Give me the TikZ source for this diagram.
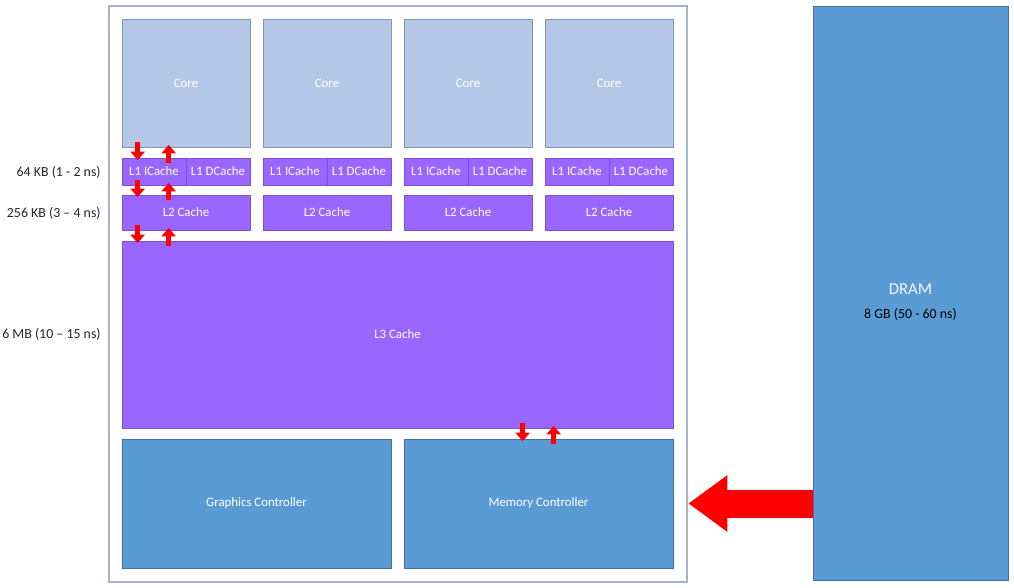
\documentclass[tikz,border=0pt]{standalone}
\usepackage{fontspec}
\setmainfont{Carlito}
\usepackage{tikz}
\usetikzlibrary{calc}
\usetikzlibrary{positioning}
\usetikzlibrary{arrows.meta}
\definecolor{coreblue}{RGB}{180,199,231}
\definecolor{coreline}{RGB}{132,151,176}
\definecolor{cachefill}{RGB}{153,102,255}
\definecolor{cacheline}{RGB}{125,78,215}
\definecolor{ctrlfill}{RGB}{91,155,213}
\definecolor{ctrlline}{RGB}{65,113,156}
\definecolor{chipline}{RGB}{165,180,200}
\tikzset{
  corebox/.style={draw=coreline, fill=coreblue, minimum width=2.56cm, minimum height=2.56cm,
    inner sep=0pt, text=white, font=\fontsize{7.3}{8}\selectfont},
  cachebox/.style={draw=cacheline, fill=cachefill, inner sep=0pt, text=white,
    font=\fontsize{7.3}{8}\selectfont},
  ctrlbox/.style={draw=ctrlline, fill=ctrlfill, inner sep=0pt, text=white,
    font=\fontsize{7.3}{8}\selectfont},
  sizelbl/.style={anchor=east, inner sep=0pt, text=black!85, font=\fontsize{7.9}{9}\selectfont},
  busarrow/.style={red, line width=0.09cm, -{Triangle[width=0.28cm,length=0.17cm]},
    shorten <=-0.1cm, shorten >=-0.05cm}
}
% one pair of small read/write arrows between two boxes
\newcommand{\rwarrows}[4]{
  \coordinate (dn) at ($(#2.north west)+(#3,0)$);
  \coordinate (up) at ($(#2.north west)+(#4,0)$);
  \draw[busarrow] (dn |- #1.south) -- (dn);
  \draw[busarrow] (up) -- (up |- #1.south);
}
\begin{document}
\begin{tikzpicture}
  \useasboundingbox (0,0) rectangle (20.28,11.74);
  % chip outline
  \draw[chipline, line width=0.6pt, fill=white] (2.18,0.10) rectangle (13.74,11.62);
  % cores with their L1 and L2 caches
  \foreach \i/\x in {1/3.72,2/6.54,3/9.36,4/12.18} {
    \node[corebox] (core\i) at (\x,10.08) {Core};
    \node[cachebox, minimum width=1.28cm, minimum height=0.54cm] (l1i\i) at (\x-0.64,8.31) {L1 ICache};
    \node[cachebox, minimum width=1.28cm, minimum height=0.54cm] (l1d\i) at (\x+0.64,8.31) {L1 DCache};
    \node[cachebox, minimum width=2.56cm, minimum height=0.70cm] (l2\i) at (\x,7.49) {L2 Cache};
  }
  \node[cachebox, minimum width=11.02cm, minimum height=3.74cm] (l3) at (7.95,5.05) {L3 Cache};
  \node[ctrlbox, minimum width=5.38cm, minimum height=2.58cm] (gfx) at (5.13,1.67) {Graphics Controller};
  \node[ctrlbox, minimum width=5.38cm, minimum height=2.58cm] (memctl) at (10.77,1.67) {Memory Controller};
  % main memory
  \node[ctrlbox, minimum width=3.90cm, minimum height=11.48cm] (dram) at (18.21,5.88) {};
  \node[text=white!92!ctrlfill, font=\fontsize{9.5}{11}\selectfont] (dramname) at (18.21,5.96) {DRAM};
  \node[text=black, font=\fontsize{7.9}{9}\selectfont] (dramsize) at (18.21,5.46) {8 GB (50 - 60 ns)};
  % sizes and latencies
  \node[sizelbl] (l1size) at (2.02,8.30) {64 KB (1 - 2 ns)};
  \node[sizelbl] (l2size) at (2.02,7.48) {256 KB (3 -- 4 ns)};
  \node[sizelbl] (l3size) at (2.02,5.06) {6 MB (10 -- 15 ns)};
  % data paths
  \rwarrows{core1}{l1i1}{0.32}{0.94}
  \rwarrows{l1i1}{l21}{0.32}{0.94}
  \rwarrows{l21}{l3}{0.32}{0.94}
  \rwarrows{l3}{memctl}{2.38}{3.00}
  \draw[red, line width=0.56cm, -{Triangle[width=1.08cm,length=0.78cm]}, shorten >=0.3cm]
    (dram.west |- memctl) -- (memctl.east);
\end{tikzpicture}
\end{document}
